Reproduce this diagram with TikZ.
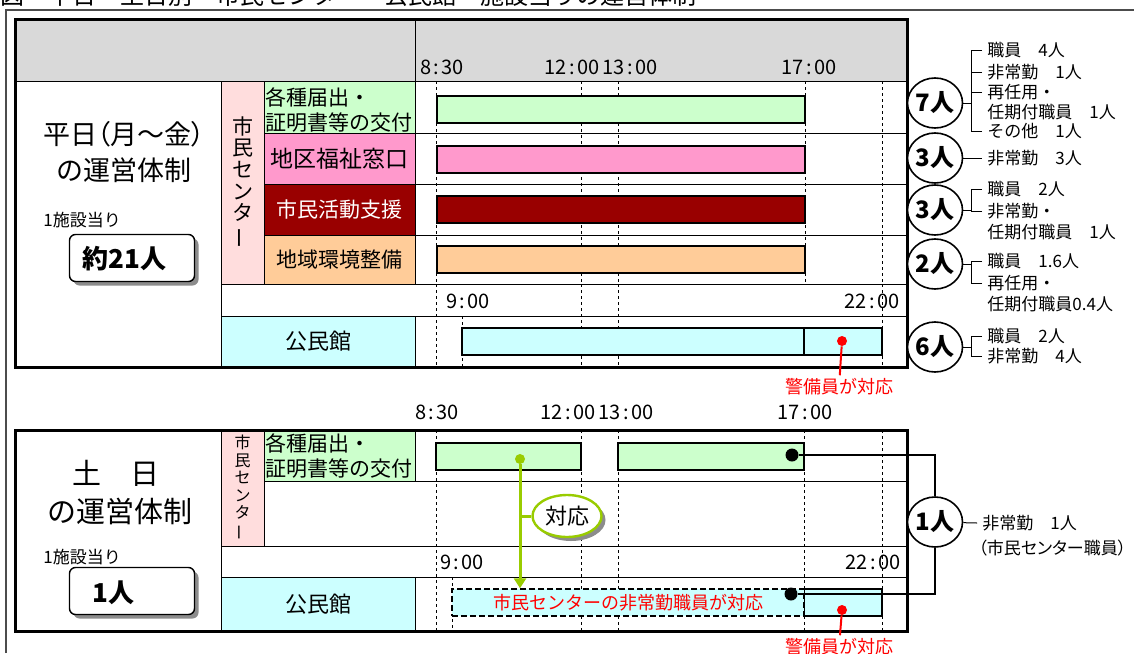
\documentclass[tikz,border=0pt]{standalone}
\usepackage{fontspec}
\setmainfont{Noto Sans CJK JP}
\usetikzlibrary{arrows.meta,shapes.geometric,shadows}

\definecolor{hdrgray}{RGB}{217,217,217}
\definecolor{cpink}{RGB}{255,221,221}
\definecolor{kgreen}{RGB}{204,255,204}
\definecolor{wpink}{RGB}{255,153,204}
\definecolor{dred}{RGB}{153,0,0}
\definecolor{lorange}{RGB}{255,204,153}
\definecolor{lcyan}{RGB}{204,255,255}
\definecolor{ygreen}{RGB}{153,204,0}
\newcommand\hhmm[2]{#1\makebox[.5em]{:}#2}

\begin{document}
\begin{tikzpicture}[x=0.5pt,y=-0.5pt,
    tline/.style={line width=0.5pt},
    tblframe/.style={line width=1.5pt},
    vdash/.style={line width=0.5pt, dash pattern=on 1.5pt off 1.5pt},
    bar/.style={draw, line width=0.7pt},
    lbl/.style={font=\fontsize{10.5}{12.5}\selectfont},
    tlbl/.style={font=\fontsize{10}{12}\selectfont},
    hd/.style={font=\fontsize{13.5}{16}\selectfont\addfontfeature{RawFeature=+palt}},
    note/.style={anchor=west, inner sep=0, font=\fontsize{8.5}{10}\selectfont},
    totbox/.style={draw, line width=0.7pt, rounded corners=3pt, fill=white,
        minimum width=62.5pt, minimum height=23.5pt,
        drop shadow={shadow xshift=2pt, shadow yshift=-2pt, fill=black!45, opacity=1}},
    tot/.style={anchor=west, inner sep=0, font=\bfseries\fontsize{13}{13}\selectfont},
    cnt/.style={ellipse, draw, line width=0.8pt, fill=white, minimum width=27.5pt,
        minimum height=25pt, inner sep=0, font=\bfseries\fontsize{12}{12}\selectfont},
    item/.style={anchor=west, inner xsep=2.5pt, inner ysep=0, font=\fontsize{8.5}{10}\selectfont},
    dot/.style={circle, fill=black, inner sep=0, minimum size=6.5pt},
    rdot/.style={circle, fill=red, inner sep=0, minimum size=5pt},
    gdot/.style={circle, fill=ygreen, inner sep=0, minimum size=5pt},
    rlbl/.style={text=red, inner sep=1.5pt, font=\fontsize{9}{10}\selectfont},
    vtext/.style={align=center, inner sep=0, font=\fontsize{10.5}{10.8}\selectfont},
    bubble/.style={ellipse, draw=ygreen, line width=1.2pt, fill=white, inner sep=0,
        minimum width=34.5pt, minimum height=21pt, font=\fontsize{11}{11}\selectfont,
        drop shadow={shadow xshift=2pt, shadow yshift=-2pt, fill=black!45, opacity=1}},
    subbox/.style={draw, line width=0.7pt, dash pattern=on 3pt off 1.5pt, fill=lcyan,
        minimum width=176pt, minimum height=13.5pt, inner sep=0, text=red,
        font=\fontsize{9}{10}\selectfont},
    garrow/.style={ygreen, line width=1.5pt, -{Triangle[width=6pt,length=5pt]}}]

\useasboundingbox (0,0) rectangle (1134,653);
\node[anchor=base west, inner sep=0, font=\fontsize{12}{12}\selectfont] (title) at (0,4)
    {図　平日・土日別　市民センター・公民館・施設当りの運営体制};
\draw[line width=0.8pt, black!70] (6,653) -- (6,10) -- (1134,10);

% weekdays
\fill[hdrgray] (15,19) rectangle (907,81);
\foreach \x in {436,581,618,805,882} \draw[vdash] (\x,81) -- (\x,284);
\foreach \x in {436,581,618,882} \draw[vdash] (\x,284) -- (\x,367);
\draw[vdash] (462,316) -- (462,367);
\draw[bar, fill=kgreen] (437,96) rectangle (805,123);
\draw[bar, fill=wpink] (437,146) rectangle (805,173);
\draw[bar, fill=dred] (437,196) rectangle (805,223);
\draw[bar, fill=lorange] (437,246) rectangle (805,273);
\draw[bar, fill=lcyan] (462,328) rectangle (882,355);
\draw[bar] (804,328) -- (804,355);

\draw[tline, fill=cpink] (221,81) rectangle (264,284) node[midway, vtext] (wdcenter)
    {市\\民\\セ\\ン\\タ\\\rotatebox[origin=c]{90}{ー}};
\draw[tline, fill=kgreen] (264,81) rectangle (415,133);
\node[lbl, anchor=west, align=left, inner sep=0] (wdform) at (265,110) {各種届出・\\証明書等の交付};
\draw[tline, fill=wpink] (264,133) rectangle (415,184)
    node[midway, font=\fontsize{11.5}{13}\selectfont] (wdwelfare) {地区福祉窓口};
\draw[tline, fill=dred] (264,184) rectangle (415,235)
    node[midway, lbl, text=white] (wdsupport) {市民活動支援};
\draw[tline, fill=lorange] (264,235) rectangle (415,284)
    node[midway, lbl] (wdenv) {地域環境整備};
\draw[tline, fill=lcyan] (221,316) rectangle (415,367)
    node[midway, font=\fontsize{11}{12}\selectfont] (wdhall) {公民館};
\draw[tline] (415,19) -- (415,81) (15,81) -- (907,81);
\foreach \y in {133,184,235} \draw[tline] (415,\y) -- (907,\y);
\draw[tline] (221,284) -- (907,284) (221,316) -- (907,316);
\draw[tline] (221,81) -- (221,367);
\draw[tblframe] (15,19) rectangle (907,367);

\node[hd] (wdtitle) at (124,134) {平日（月～金）};
\node[hd] (wdsys) at (124,170) {の運営体制};
\node[note] (wdper) at (43,220) {1施設当り};
\node[totbox] (wdtotal) at (132,258) {};
\node[tot] (wdtotaltxt) at (82,259) {約21人};

\foreach \x/\h/\m in {442/8/30, 572/12/00, 630/13/00, 809/17/00}
    \node[tlbl] (hd\h) at (\x,67) {\hhmm{\h}{\m}};
\node[tlbl] (wd9) at (468,301) {\hhmm{9}{00}};
\node[tlbl] (wd22) at (872,301) {\hhmm{22}{00}};

\node[cnt] (n7) at (935,103) {7人};
\node[cnt] (n3a) at (935,158) {3人};
\node[cnt] (n3b) at (935,210) {3人};
\node[cnt] (n2) at (935,264) {2人};
\node[cnt] (n6) at (935,347) {6人};

\node[item] (s7a) at (982,50) {職員　4人};
\node[item] (s7b) at (982,72) {非常勤　1人};
\node[item] (s7c) at (982,92) {再任用・};
\node[item] (s7d) at (982,112) {任期付職員　1人};
\node[item] (s7e) at (982,131) {その他　1人};
\coordinate (j7) at ([xshift=4pt]n7.east);
\draw[tline] (n7) -- (j7);
\foreach \s in {s7a,s7b,s7c,s7e} \draw[tline] (\s.west) -| (j7);

\node[item] (s3a) at (982,158) {非常勤　3人};
\draw[tline] (n3a) -- (s3a.west);

\node[item] (s3ba) at (982,189) {職員　2人};
\node[item] (s3bb) at (982,211) {非常勤・};
\node[item] (s3bc) at (982,232) {任期付職員　1人};
\coordinate (j3) at ([xshift=4pt]n3b.east);
\draw[tline] (n3b) -- (j3);
\foreach \s in {s3ba,s3bb} \draw[tline] (\s.west) -| (j3);

\node[item] (s2a) at (982,261) {職員　1.6人};
\node[item] (s2b) at (982,283) {再任用・};
\node[item] (s2c) at (982,304) {任期付職員0.4人};
\coordinate (j2) at ([xshift=4pt]n2.east);
\draw[tline] (n2) -- (j2);
\foreach \s in {s2a,s2b} \draw[tline] (\s.west) -| (j2);

\node[item] (s6a) at (982,336) {職員　2人};
\node[item] (s6b) at (982,356) {非常勤　4人};
\coordinate (j6) at ([xshift=4pt]n6.east);
\draw[tline] (n6) -- (j6);
\foreach \s in {s6a,s6b} \draw[tline] (\s.west) -| (j6);

\node[rdot] (wdguard) at (842,341) {};
\node[rlbl] (wdguardtxt) at (839,387) {警備員が対応};
\draw[red, line width=1pt] (wdguard) -- (wdguardtxt);

\foreach \x/\h/\m in {437/8/30, 568/12/00, 626/13/00, 805/17/00}
    \node[tlbl] (we\h) at (\x,412) {\hhmm{\h}{\m}};

% weekends
\foreach \x in {436,581,618,804,882} \draw[vdash] (\x,430) -- (\x,631);
\draw[vdash] (452,577) -- (452,631);
\draw[bar, fill=kgreen] (436,443) rectangle (581,470);
\draw[bar, fill=kgreen] (618,443) rectangle (804,470);
\draw[bar, fill=lcyan] (804,589) rectangle (882,616);
\node[subbox] (sub) at (628,602.5) {市民センターの非常勤職員が対応};

\draw[tline, fill=cpink] (221,430) rectangle (264,546) node[midway, vtext,
    font=\fontsize{8}{8.75}\selectfont] (wecenter) {市\\民\\セ\\ン\\タ\\\rotatebox[origin=c]{90}{ー}};
\draw[tline, fill=kgreen] (264,430) rectangle (415,481);
\node[lbl, anchor=west, align=left, inner sep=0] (weform) at (265,456) {各種届出・\\証明書等の交付};
\draw[tline, fill=lcyan] (221,577) rectangle (415,631)
    node[midway, font=\fontsize{11}{12}\selectfont] (wehall) {公民館};
\draw[tline] (264,481) -- (907,481) (221,546) -- (907,546) (221,577) -- (907,577);
\draw[tline] (221,430) -- (221,631);
\draw[tblframe] (15,430) rectangle (907,631);

\node[hd, font=\fontsize{14.5}{16}\selectfont] (wetitle) at (116,473) {土　日};
\node[hd, font=\fontsize{14.5}{16}\selectfont] (wesys) at (120,511) {の運営体制};
\node[note] (weper) at (43,557) {1施設当り};
\node[totbox] (wetotal) at (132,591) {};
\node[tot] (wetotaltxt) at (92,593) {1人};

\node[tlbl] (we9) at (462,562) {\hhmm{9}{00}};
\node[tlbl] (we22) at (873,562) {\hhmm{22}{00}};

\node[gdot] (gd) at (520,459) {};
\draw[garrow] (gd) -- (gd |- sub.north);
\node[bubble] (taiou) at (567,516) {対応};
\draw[ygreen, line width=1.5pt] (taiou) -- (gd |- taiou);

\node[dot] (satd) at (792,455) {};
\node[dot] (sund) at (791,594) {};
\node[cnt] (n1) at (935,522) {1人};
\draw[line width=0.8pt] (satd) -| (n1.north);
\draw[line width=0.8pt] (sund) -| (n1.south);
\node[item] (s1a) at (977,523) {非常勤　1人};
\draw[tline] (n1) -- (s1a.west);
\node[note, font=\fontsize{8.5}{10}\selectfont\addfontfeature{RawFeature=+palt}] (s1b) at (978,548)
    {（市民センター職員）};

\node[rdot] (weguard) at (842,610) {};
\node[rlbl] (weguardtxt) at (839,647) {警備員が対応};
\draw[red, line width=1pt] (weguard) -- (weguardtxt);
\end{tikzpicture}
\end{document}
